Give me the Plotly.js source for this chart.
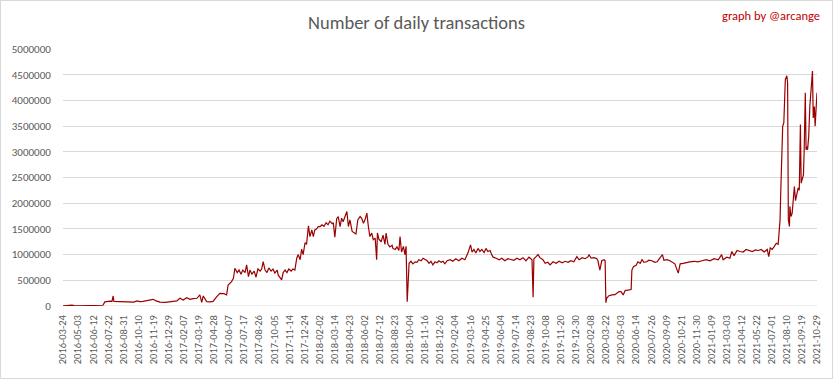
<!DOCTYPE html>
<html>
<head>
<meta charset="utf-8">
<script src="https://cdn.plot.ly/plotly-3.0.1.min.js"></script>
<style>
  html, body { margin: 0; padding: 0; background: #fff; }
  #wrap { position: relative; width: 833px; height: 379px; }
  #chart { width: 833px; height: 379px; }
  #frame { position: absolute; left: 0; top: 0; width: 831px; height: 377px; border: 1px solid #d9d9d9; pointer-events: none; }
</style>
</head>
<body>
<div id="wrap"><div id="chart"></div><div id="frame"></div></div>
<script>
// Category position (day index in the series) of each sampled point
const dayIndex = [
  0, 8, 14, 24, 32, 45, 54, 72, 90, 106, 111, 117, 125, 130, 133, 135, 142, 151, 160, 167,
  178, 188, 196, 204, 212, 220, 231, 239, 247, 257, 271, 284, 302, 310, 319, 328, 337, 345, 355, 363,
  368, 372, 381, 390, 398, 408, 416, 427, 434, 438, 447, 452, 456, 462, 467, 472, 477, 483, 487, 492,
  496, 501, 507, 512, 517, 523, 527, 531, 536, 541, 546, 552, 557, 562, 568, 571, 576, 580, 584, 589,
  594, 599, 605, 610, 615, 620, 624, 629, 633, 637, 642, 646, 651, 655, 660, 664, 668, 673, 677, 682,
  687, 692, 698, 703, 708, 714, 717, 721, 726, 730, 735, 739, 743, 748, 753, 757, 761, 767, 772, 777,
  782, 788, 792, 797, 801, 806, 810, 814, 819, 823, 828, 832, 834, 838, 844, 849, 854, 857, 862, 867,
  873, 875, 881, 886, 891, 894, 898, 903, 907, 910, 913, 918, 923, 928, 934, 939, 944, 950, 955, 960,
  966, 971, 976, 981, 987, 992, 997, 1003, 1008, 1013, 1019, 1027, 1034, 1042, 1050, 1058, 1066, 1074, 1081, 1085,
  1090, 1095, 1101, 1106, 1111, 1117, 1122, 1127, 1133, 1137, 1141, 1149, 1157, 1164, 1172, 1180, 1188, 1196, 1204, 1212,
  1220, 1228, 1236, 1244, 1247, 1249, 1255, 1260, 1265, 1273, 1279, 1286, 1292, 1300, 1308, 1316, 1324, 1332, 1340, 1347,
  1355, 1363, 1369, 1377, 1385, 1393, 1395, 1401, 1409, 1416, 1419, 1424, 1429, 1435, 1438, 1440, 1442, 1448, 1456, 1464,
  1469, 1475, 1480, 1486, 1491, 1499, 1504, 1507, 1509, 1513, 1520, 1525, 1531, 1536, 1541, 1548, 1554, 1562, 1570, 1576,
  1581, 1590, 1594, 1602, 1610, 1615, 1623, 1632, 1637, 1645, 1653, 1663, 1674, 1684, 1695, 1706, 1716, 1727, 1738, 1747,
  1751, 1761, 1769, 1774, 1780, 1788, 1796, 1804, 1812, 1820, 1828, 1837, 1844, 1852, 1860, 1868, 1872, 1876, 1881, 1886,
  1892, 1897, 1900, 1902, 1904, 1906, 1909, 1912, 1913, 1916, 1920, 1922, 1924, 1927, 1928, 1931, 1934, 1937, 1940, 1943,
  1946, 1950, 1953, 1956, 1958, 1961, 1964, 1966, 1969, 1971, 1973, 1975, 1978, 1981, 1985, 1988, 1990, 1993, 1995, 1998,
  2000
];

// Number of daily transactions
const transactions = [
  5000, 8000, 20000, 18000, 5000, 8000, 10000, 14000, 15000, 15000, 80000, 90000, 95000, 90000, 195000, 90000, 88000, 80000, 80000, 72000,
  70000, 75000, 100000, 85000, 90000, 100000, 110000, 130000, 100000, 75000, 72000, 80000, 100000, 150000, 115000, 160000, 130000, 145000, 150000, 215000,
  72000, 195000, 84000, 80000, 90000, 182000, 247000, 240000, 215000, 409000, 474000, 539000, 734000, 650000, 700000, 620000, 700000, 650000, 800000, 572000,
  700000, 620000, 680000, 560000, 720000, 680000, 720000, 864000, 700000, 650000, 740000, 680000, 720000, 640000, 700000, 600000, 560000, 507000, 650000, 700000,
  650000, 720000, 680000, 720000, 700000, 930000, 1000000, 900000, 1108000, 1000000, 1230000, 1200000, 1560000, 1351000, 1480000, 1351000, 1480000, 1500000, 1546000, 1546000,
  1580000, 1550000, 1620000, 1580000, 1650000, 1600000, 1620000, 1340000, 1700000, 1741000, 1546000, 1710000, 1640000, 1760000, 1839000, 1546000, 1676000, 1450000, 1420000, 1400000,
  1676000, 1741000, 1710000, 1611000, 1676000, 1806000, 1546000, 1351000, 1420000, 1290000, 1320000, 900000, 1420000, 1300000, 1250000, 1380000, 1200000, 1420000, 1200000, 1150000,
  1180000, 1120000, 1100000, 1150000, 1080000, 1350000, 1050000, 1160000, 1000000, 1160000, 85000, 830000, 870000, 820000, 860000, 850000, 900000, 880000, 930000, 900000,
  880000, 830000, 870000, 800000, 860000, 840000, 880000, 850000, 870000, 820000, 880000, 900000, 870000, 920000, 880000, 930000, 900000, 1030000, 1190000, 1050000,
  1100000, 1030000, 1120000, 1060000, 1100000, 1040000, 1120000, 1060000, 1080000, 1000000, 950000, 930000, 900000, 930000, 880000, 920000, 900000, 890000, 930000, 900000,
  940000, 880000, 950000, 900000, 169000, 920000, 960000, 1000000, 940000, 900000, 830000, 850000, 800000, 860000, 830000, 870000, 840000, 870000, 850000, 880000,
  860000, 960000, 900000, 940000, 920000, 960000, 1000000, 930000, 940000, 920000, 880000, 700000, 880000, 900000, 880000, 63000, 150000, 200000, 215000, 220000,
  247000, 280000, 280000, 215000, 300000, 310000, 315000, 320000, 700000, 763000, 790000, 860000, 830000, 900000, 850000, 860000, 890000, 880000, 850000, 860000,
  910000, 1000000, 890000, 900000, 880000, 860000, 820000, 640000, 820000, 830000, 850000, 860000, 870000, 860000, 880000, 900000, 880000, 920000, 900000, 1000000,
  900000, 950000, 930000, 1060000, 980000, 1080000, 1060000, 1050000, 1100000, 1080000, 1060000, 1090000, 1080000, 1100000, 1050000, 1100000, 960000, 1130000, 1100000, 1150000,
  1220000, 1200000, 1449000, 1676000, 2261000, 2976000, 3496000, 3567000, 3886000, 4405000, 4480000, 4340000, 1676000, 1547000, 1937000, 1741000, 1800000, 2000000, 2326000, 2050000,
  2170000, 2300000, 2250000, 3530000, 2390000, 2500000, 2550000, 3040000, 4150000, 3040000, 3100000, 3040000, 3300000, 3885000, 4340000, 4570000, 3660000, 3880000, 3500000, 3900000,
  4150000
];

// Category axis labels (every 40th day shown)
const tickLabels = [
  "2016-03-24","2016-05-03","2016-06-12","2016-07-22","2016-08-31","2016-10-10","2016-11-19","2016-12-29",
  "2017-02-07","2017-03-19","2017-04-28","2017-06-07","2017-07-17","2017-08-26","2017-10-05","2017-11-14","2017-12-24",
  "2018-02-02","2018-03-14","2018-04-23","2018-06-02","2018-07-12","2018-08-23","2018-10-04","2018-11-16","2018-12-26",
  "2019-02-04","2019-03-16","2019-04-25","2019-06-04","2019-07-14","2019-08-23","2019-10-08","2019-11-20","2019-12-30",
  "2020-02-08","2020-03-22","2020-05-03","2020-06-14","2020-07-26","2020-09-09","2020-10-21","2020-11-30",
  "2021-01-09","2021-03-03","2021-04-12","2021-05-22","2021-07-01","2021-08-10","2021-09-19","2021-10-29"
];
const tickStep = 40;
const tickPositions = tickLabels.map((_, i) => i * tickStep);

const FONT = 'Calibri, Carlito, "Liberation Sans", Arial, sans-serif';

const trace = {
  x: dayIndex,
  y: transactions,
  type: 'scatter',
  mode: 'lines',
  line: { color: '#9a0000', width: 1.2 },
  hoverinfo: 'y'
};

const layout = {
  width: 833,
  height: 379,
  margin: { l: 63, r: 16, t: 49, b: 73 },
  paper_bgcolor: '#ffffff',
  plot_bgcolor: '#ffffff',
  showlegend: false,
  font: { family: FONT, color: '#595959', size: 11 },
  title: {
    text: 'Number of daily transactions',
    font: { family: FONT, size: 18.5, color: '#595959', weight: 300 },
    x: 0.5, xref: 'container', xanchor: 'center',
    y: 0.94, yref: 'container', yanchor: 'middle'
  },
  xaxis: {
    range: [0, 2000],
    tickmode: 'array',
    tickvals: tickPositions,
    ticktext: tickLabels,
    tickangle: -90,
    ticks: 'outside',
    ticklen: 4,
    tickcolor: 'rgba(0,0,0,0)',
    showgrid: false,
    zeroline: false,
    showline: false,
    tickfont: { family: FONT, size: 10.5, color: '#595959' },
    fixedrange: true
  },
  yaxis: {
    range: [0, 5000000],
    tick0: 0,
    dtick: 500000,
    tickformat: 'd',
    ticks: 'outside',
    ticklen: 9,
    tickcolor: 'rgba(0,0,0,0)',
    showgrid: true,
    gridcolor: '#d9d9d9',
    gridwidth: 1,
    zeroline: false,
    showline: false,
    tickfont: { family: FONT, size: 11, color: '#595959' },
    fixedrange: true
  },
  shapes: [
    { type: 'line', xref: 'paper', yref: 'y', x0: 0, x1: 1, y0: 0, y1: 0, line: { color: '#d9d9d9', width: 1 }, layer: 'below' }
  ],
  annotations: [
    {
      text: 'graph by @arcange',
      xref: 'paper', yref: 'paper',
      x: 1.0066, y: 1.132, xanchor: 'right', yanchor: 'middle',
      showarrow: false,
      font: { family: FONT, size: 12.5, color: '#c00000' }
    }
  ]
};

Plotly.newPlot('chart', [trace], layout, { staticPlot: true, displayModeBar: false });
</script>
</body>
</html>
